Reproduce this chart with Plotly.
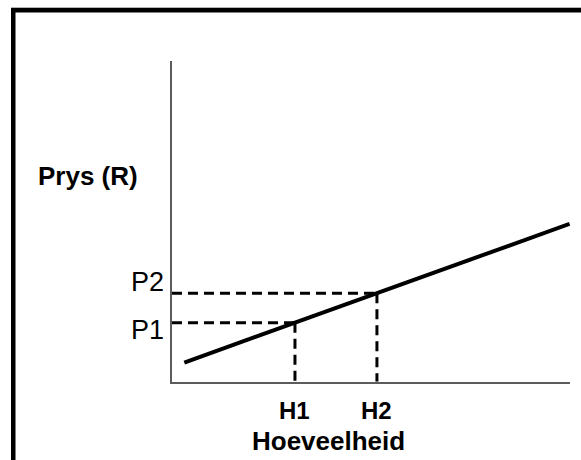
import plotly.graph_objects as go

# ---- data ----
supply_quantity = [0.3, 9.7]
supply_price = [0.65, 5.35]
h_values = [3.0, 5.0]
p_values = [2.0, 3.0]
h_labels = ["H1", "H2"]
p_labels = ["P1", "P2"]
x_title = "Hoeveelheid"
y_title = "Prys (R)"

W, H = 581, 460
FONT = "Liberation Sans, Arial, sans-serif"

def px(x):
    return x / W

def py(y):
    return 1 - y / H

fig = go.Figure()

# supply line
fig.add_trace(go.Scatter(x=supply_quantity, y=supply_price, mode="lines",
                         line=dict(color="black", width=4), hoverinfo="skip"))

# dashed guide lines
dash = "10px,6px"
for h, p in zip(h_values, p_values):
    fig.add_trace(go.Scatter(x=[0, h], y=[p, p], mode="lines",
                             line=dict(color="black", width=3, dash=dash), hoverinfo="skip"))
    fig.add_trace(go.Scatter(x=[h, h], y=[p, 0], mode="lines",
                             line=dict(color="black", width=3, dash=dash), hoverinfo="skip"))

annotations = []
for h, lab in zip(h_values, h_labels):
    annotations.append(dict(x=h, xref="x", y=py(410.5), yref="paper", text=f"<b>{lab}</b>",
                            showarrow=False, xanchor="center", yanchor="middle",
                            font=dict(family=FONT, size=24, color="black")))
p_shift = [-7, 11]
for p, lab, s in zip(p_values, p_labels, p_shift):
    annotations.append(dict(x=px(166), xref="paper", y=p, yref="y", text=lab, yshift=s,
                            showarrow=False, xanchor="right", yanchor="middle",
                            font=dict(family=FONT, size=27, color="black")))
annotations.append(dict(x=px(328), xref="paper", y=py(441), yref="paper", text=f"<b>{x_title}</b>",
                        showarrow=False, xanchor="center", yanchor="middle",
                        font=dict(family=FONT, size=26, color="black")))
annotations.append(dict(x=px(88), xref="paper", y=py(176), yref="paper", text=f"<b>{y_title}</b>",
                        showarrow=False, xanchor="center", yanchor="middle",
                        font=dict(family=FONT, size=26, color="black")))

shapes = [
    dict(type="line", xref="paper", yref="paper", x0=px(11), x1=1, y0=py(7.5), y1=py(7.5),
         line=dict(color="#b4b4b4", width=1)),
    dict(type="rect", xref="paper", yref="paper", x0=px(11), x1=1, y0=py(12.5), y1=py(8),
         fillcolor="black", line=dict(width=0)),
    dict(type="rect", xref="paper", yref="paper", x0=px(11), x1=px(15.5), y0=0, y1=py(8),
         fillcolor="black", line=dict(width=0)),
]

fig.update_layout(
    width=W, height=H, margin=dict(l=0, r=0, t=0, b=0),
    paper_bgcolor="white", plot_bgcolor="white", showlegend=False,
    annotations=annotations, shapes=shapes,
    xaxis=dict(domain=[px(172), px(570)], range=[0, 9.71], showgrid=False, zeroline=False,
               showticklabels=False, ticks="", showline=True, linecolor="#5c5c5c", linewidth=2,
               fixedrange=True),
    yaxis=dict(domain=[py(381.7), py(61)], range=[0, 10.87], showgrid=False, zeroline=False,
               showticklabels=False, ticks="", showline=True, linecolor="#5c5c5c", linewidth=2,
               fixedrange=True),
)

fig.write_html("out.html", config={"displayModeBar": False},
               post_script="document.body.style.margin='0px';document.body.style.overflow='hidden';")
